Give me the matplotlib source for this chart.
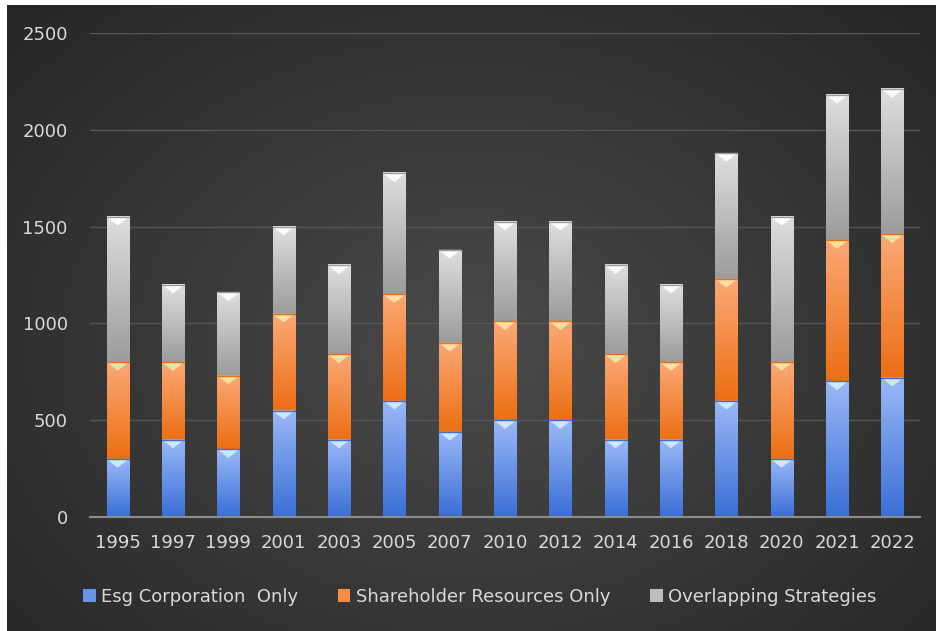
import matplotlib.pyplot as plt
import numpy as np
from matplotlib.patches import Patch, Polygon
from matplotlib.colors import LinearSegmentedColormap

years = ['1995', '1997', '1999', '2001', '2003', '2005', '2007', '2010',
         '2012', '2014', '2016', '2018', '2020', '2021', '2022']
esg_only = [300, 400, 350, 550, 400, 600, 440, 500, 500, 400, 400, 600, 300, 700, 720]
shareholder_only = [500, 400, 380, 500, 440, 550, 460, 510, 510, 440, 400, 630, 500, 730, 740]
overlapping = [750, 400, 430, 450, 460, 625, 480, 515, 515, 460, 400, 650, 750, 750, 750]

series = [
    ('Esg Corporation  Only', esg_only, '#9ab8f7', '#3a6fd6', '#6b93e8', '#d8ecff'),
    ('Shareholder Resources Only', shareholder_only, '#fba876', '#ec6f14', '#f58b45', '#ffe6a8'),
    ('Overlapping Strategies', overlapping, '#dedede', '#9c9c9c', '#bdbdbd', '#ffffff'),
]

txt = '#d9d9d9'
fig = plt.figure(figsize=(9.37, 6.31), dpi=100)
fig.patch.set_facecolor('white')

# dark radial background
bg = fig.add_axes([7 / 937, 0, 930 / 937, 626 / 631])
bg.set_axis_off()
yy, xx = np.mgrid[0:1:300j, 0:1:450j]
r = np.sqrt(((xx - 0.5) / 0.75) ** 2 + ((yy - 0.55) / 0.85) ** 2)
bg.imshow(np.clip(r, 0, 1), cmap=LinearSegmentedColormap.from_list('bg', ['#4a4a4a', '#232323']),
          aspect='auto', extent=[0, 1, 0, 1], vmin=0, vmax=1)
bg.set_xlim(0, 1)
bg.set_ylim(0, 1)

ax = fig.add_axes([90 / 937, (631 - 517) / 631, 830 / 937, (517 - 33) / 631])
ax.set_facecolor('none')
x = np.arange(len(years))
w = 0.4
ax.set_xlim(-0.5, len(years) - 0.5)
ax.set_ylim(0, 2500)

grad = np.linspace(1, 0, 64).reshape(-1, 1)
bottoms = np.zeros(len(years))
for name, vals, top_c, bot_c, mid_c, bevel_c in series:
    cmap = LinearSegmentedColormap.from_list(name, [bot_c, top_c])
    for i, v in enumerate(vals):
        b = bottoms[i]
        ax.imshow(grad, cmap=cmap, aspect='auto', vmin=0, vmax=1,
                  extent=[x[i] - w / 2, x[i] + w / 2, b, b + v], zorder=3)
        ax.add_patch(Polygon([[x[i] - w / 2, b + v], [x[i] + w / 2, b + v], [x[i], b + v - 45]],
                             closed=True, facecolor=bevel_c, edgecolor='none', alpha=0.9, zorder=4))
        ax.plot([x[i] - w / 2, x[i] + w / 2], [b + v, b + v], color=bot_c, lw=1, zorder=4)
    bottoms += np.array(vals)

ax.set_yticks([0, 500, 1000, 1500, 2000, 2500])
ax.yaxis.grid(True, color='#555555', lw=1)
ax.set_axisbelow(True)
ax.set_xticks(x)
ax.set_xticklabels(years)
for s in ['top', 'right', 'left']:
    ax.spines[s].set_visible(False)
ax.spines['bottom'].set_color('#8c8c8c')
ax.spines['bottom'].set_linewidth(1.5)
ax.spines['bottom'].set_zorder(5)
ax.tick_params(axis='both', length=0, colors=txt, labelsize=13)
ax.tick_params(axis='y', pad=16)
ax.tick_params(axis='x', pad=12)

handles = [Patch(facecolor=s[4], edgecolor='none', label=s[0]) for s in series]
fig.legend(handles=handles, loc='center', bbox_to_anchor=(0.512, 0.054), ncol=3, frameon=False,
           fontsize=13, labelcolor=txt, handlelength=0.7, handleheight=0.7,
           handletextpad=0.3, columnspacing=2.2)

fig.savefig('out.png', dpi=100, facecolor=fig.get_facecolor())
